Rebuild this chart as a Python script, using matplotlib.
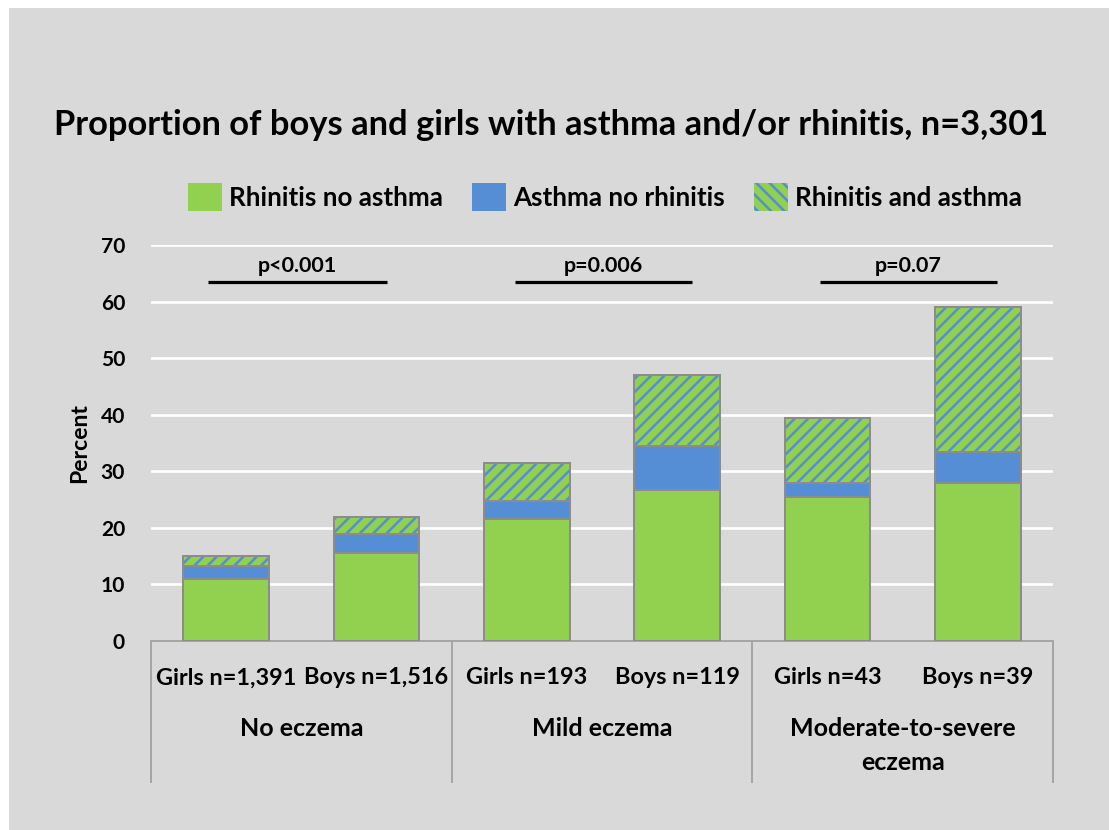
import matplotlib
matplotlib.use("Agg")
import matplotlib.pyplot as plt
import matplotlib.transforms as mtransforms
from matplotlib.patches import Patch, Rectangle
import numpy as np

# ── Data ──────────────────────────────────────────────────────────────────────
groups = ["No eczema", "Mild eczema", "Moderate-to-severe\neczema"]
bar_labels = ["Girls n=1,391", "Boys n=1,516", "Girls n=193", "Boys n=119",
              "Girls n=43", "Boys n=39"]
rhinitis_only = [11.0, 15.5, 21.6, 26.7, 25.4, 28.0]
asthma_only = [2.3, 3.4, 3.1, 7.8, 2.5, 5.4]
both = [1.8, 3.1, 6.7, 12.5, 11.5, 25.7]
p_values = ["p<0.001", "p=0.006", "p=0.07"]
series_names = ["Rhinitis no asthma", "Asthma no rhinitis", "Rhinitis and asthma"]

GREEN = "#92D050"
BLUE = "#558ED5"
BG = "#D9D9D9"
EDGE = "#8C8C8C"
FONT = ["Lato", "DejaVu Sans"]

DPI = 120
W, H = 1109, 830
AX_TOP, AX_BOT = 245, 641
def pt(px):
    return px * 72 / DPI

def ax_y(py):
    # pixel row -> axes fraction
    return (AX_BOT - py) / (AX_BOT - AX_TOP)

plt.rcParams["font.family"] = FONT
plt.rcParams["font.weight"] = "bold"
plt.rcParams["hatch.linewidth"] = 1.5

fig = plt.figure(figsize=(W / DPI, H / DPI), dpi=DPI, facecolor="white")
fig.patches.append(Rectangle((9 / W, 0), 1 - 9 / W, 1 - 8 / H, transform=fig.transFigure,
                             facecolor=BG, edgecolor="none", zorder=-10))

ax = fig.add_axes([151 / W, (H - AX_BOT) / H, (1053 - 151) / W, (AX_BOT - AX_TOP) / H])
ax.set_facecolor(BG)

x = np.arange(len(bar_labels)) + 0.5
width = 0.57
r = np.array(rhinitis_only)
a = np.array(asthma_only)
b = np.array(both)

ax.bar(x, r, width, color=GREEN, edgecolor=EDGE, linewidth=1.2, zorder=3)
ax.bar(x, a, width, bottom=r, color=BLUE, edgecolor=EDGE, linewidth=1.2, zorder=3)
ax.bar(x, b, width, bottom=r + a, color=GREEN, edgecolor=BLUE, hatch="///",
       linewidth=0, zorder=3)
ax.bar(x, b, width, bottom=r + a, fill=False, edgecolor=EDGE, linewidth=1.2, zorder=4)

ax.set_xlim(0, 6)
ax.set_ylim(0, 70)
ax.set_yticks(range(0, 71, 10))
ax.yaxis.grid(True, color="white", linewidth=1.6)
ax.set_axisbelow(True)
for s in ["top", "right", "left"]:
    ax.spines[s].set_visible(False)
ax.spines["bottom"].set_color("#A6A6A6")
ax.spines["bottom"].set_linewidth(1.2)
ax.tick_params(axis="y", length=0, pad=pt(26), labelsize=pt(21))
ax.tick_params(axis="x", length=0, labelbottom=False)
ax.set_ylabel("Percent", fontsize=pt(23), fontweight="bold", labelpad=pt(10))

# p-value brackets
line_starts = [0.38, 2.42, 4.45]
line_ends = [1.57, 3.60, 5.63]
for p, x0, x1 in zip(p_values, line_starts, line_ends):
    ax.plot([x0, x1], [63.4, 63.4], color="black", linewidth=pt(3.2),
            solid_capstyle="butt", zorder=5)
    ax.text((x0 + x1) / 2, 66.3, p, ha="center", va="center", fontsize=pt(21.5),
            fontweight="bold")

# category axis (two-level)
trans = mtransforms.blended_transform_factory(ax.transData, ax.transAxes)
for xs in [0, 2, 4, 6]:
    ax.plot([xs, xs], [0, ax_y(782)], color="#A6A6A6", linewidth=1.2,
            transform=trans, clip_on=False)
for xi, lab in zip(x, bar_labels):
    ax.text(xi, ax_y(678), lab, transform=trans, ha="center", va="center",
            fontsize=pt(23.5), fontweight="bold")
for i, g in enumerate(groups):
    for j, line in enumerate(g.split("\n")):
        ax.text(2 * i + 1, ax_y(729 + 34 * j), line, transform=trans, ha="center",
                va="center", fontsize=pt(25), fontweight="bold")

# title + legend
fig.text(551 / W, 1 - 125 / H, "Proportion of boys and girls with asthma and/or rhinitis, n=3,301",
         ha="center", va="center", fontsize=pt(34.5), fontweight="bold")
handles = [Patch(facecolor=GREEN, edgecolor="none"),
           Patch(facecolor=BLUE, edgecolor="none"),
           Patch(facecolor=GREEN, edgecolor=BLUE, hatch="\\\\\\", linewidth=0)]
fig.legend(handles, series_names, loc="center", bbox_to_anchor=(605 / W, 1 - 197 / H),
           ncol=3, frameon=False, prop={"family": FONT, "weight": "bold", "size": pt(26)},
           handlelength=1.3, handleheight=1.3, handletextpad=0.3, columnspacing=1.1)

fig.savefig("out.png", dpi=DPI, facecolor="white")
